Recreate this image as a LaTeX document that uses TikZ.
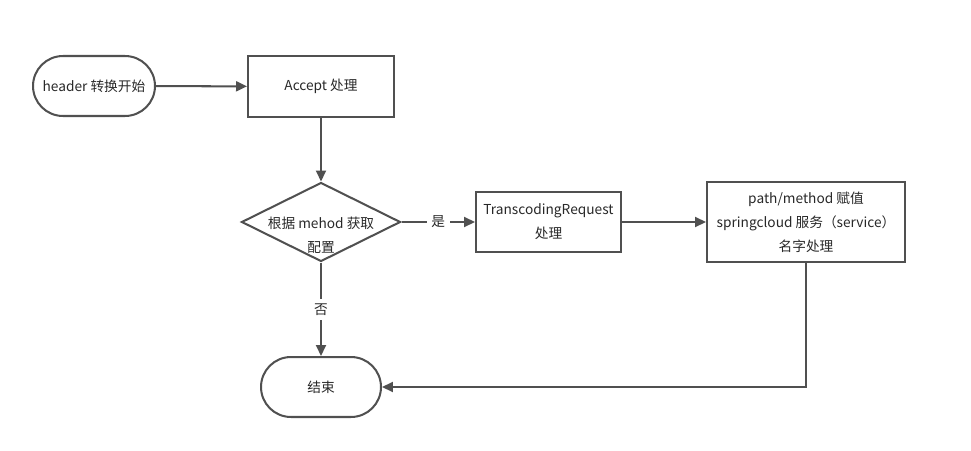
\documentclass[tikz,border=0pt]{standalone}
\usepackage{fontspec}
\setmainfont{Noto Sans CJK SC}
\usetikzlibrary{shapes.geometric,arrows.meta}
\definecolor{myline}{RGB}{80,80,80}
\definecolor{mytext}{RGB}{40,40,40}

\begin{document}
\begin{tikzpicture}[x=0.02cm,y=-0.02cm,
    every node/.style={font=\fontsize{7.8}{13.6}\selectfont, text=mytext, align=center},
    term/.style={draw=myline, line width=1.15pt, rounded corners=0.6cm, minimum width=2.44cm, minimum height=1.2cm},
    box/.style={draw=myline, line width=1.15pt, minimum width=2.92cm, minimum height=1.22cm},
    cond/.style={draw=myline, line width=1.15pt, diamond, minimum width=3.18cm, minimum height=1.58cm, inner sep=0pt},
    arrow/.style={draw=myline, line width=1.15pt, -{Triangle[length=0.22cm,width=0.2cm]}},
    lbl/.style={fill=white, inner sep=2.5pt}]
    \useasboundingbox (0,0) rectangle (971,450); % keeps the page size

    \node[term] (Start) at (94,86) {header 转换开始};
    \node[box] (Accept) at (321,86.5) {Accept 处理};
    \node[cond, label={[yshift=-0.27cm]center:根据 mehod 获取\\配置}] (Decide) at (321,222) {};
    \node[box, minimum width=2.9cm, minimum height=1.2cm] (Transcode) at (548.5,222) {TranscodingRequest\\处理};
    \node[box, minimum width=3.96cm, minimum height=1.6cm] (Service) at (806,222) {path/method 赋值\\springcloud 服务（service）\\名字处理};
    \node[term, minimum width=2.4cm] (Finish) at (321,387) {结束};

    \draw[arrow] (Start) -- (Accept);
    \draw[arrow] (Accept) -- (Decide);
    \draw[arrow] (Decide) -- node[lbl] {是} (Transcode);
    \draw[arrow] (Transcode) -- (Service);
    \draw[arrow] (Decide) -- node[lbl] {否} (Finish);
    \draw[arrow] (Service) |- (Finish); % back to the end
\end{tikzpicture}
\end{document}
